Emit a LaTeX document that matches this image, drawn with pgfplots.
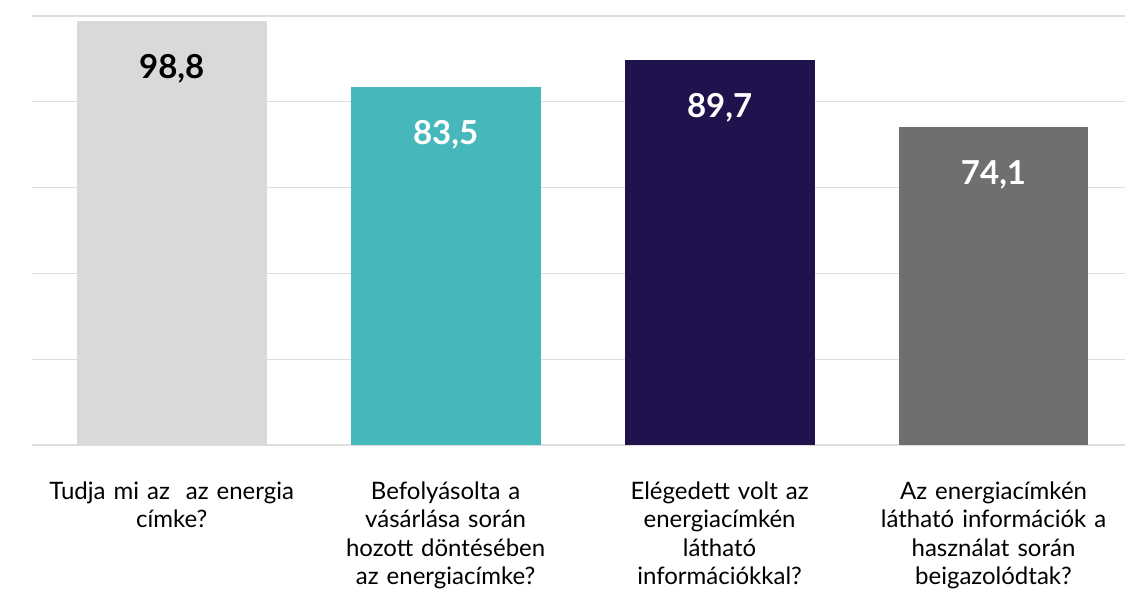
\documentclass[border=0pt]{standalone}
\usepackage{fontspec}
\setmainfont{Lato}
\usepackage{pgfplots}
\pgfplotsset{compat=1.18}
\definecolor{c1}{HTML}{D9D9D9}
\definecolor{c2}{HTML}{46B8BC}
\definecolor{c3}{HTML}{1F124D}
\definecolor{c4}{HTML}{6F6F6D}
\definecolor{gridc}{HTML}{DEDEDE}
\begin{document}
\begin{tikzpicture}
\begin{axis}[
  scale only axis,
  width=1093pt, height=429pt,
  xmin=-0.51, xmax=3.48,
  ymin=0, ymax=100,
  ytick={0,20,40,60,80,100},
  yticklabels={},
  ymajorgrids,
  grid style={gridc, line width=1.4pt},
  axis line style={draw=none},
  major tick length=0pt,
  xtick={0,1,2,3},
  xticklabels={
    {Tudja mi az\ \ az energia\\címke?},
    {Befolyásolta a\\vásárlása során\\hozott döntésében\\az energiacímke?},
    {Elégedett volt az\\energiacímkén\\látható\\információkkal?},
    {Az energiacímkén\\látható információk a\\használat során\\beigazolódtak?}},
  xticklabel style={text width=300pt, align=center, font=\fontsize{24}{28.5}\selectfont, yshift=-33pt},
  ybar, bar width=0.693, bar shift=0pt,
  /pgf/number format/.cd, use comma, fixed, fixed zerofill, precision=1, assume math mode=true,
  /pgfplots/.cd,
  nodes near coords,
  every node near coord/.append style={anchor=center, yshift=-48pt, font=\fontsize{33}{36}\selectfont\bfseries},
]
\addplot[fill=c1, draw=none, every node near coord/.append style={text=black}] coordinates {(0,98.8)};
\addplot[fill=c2, draw=none, every node near coord/.append style={text=white}] coordinates {(1,83.5)};
\addplot[fill=c3, draw=none, every node near coord/.append style={text=white}] coordinates {(2,89.7)};
\addplot[fill=c4, draw=none, every node near coord/.append style={text=white}] coordinates {(3,74.1)};
\end{axis}
\path[use as bounding box] (-32pt,-144pt) rectangle ++(1148pt,589pt);
\end{tikzpicture}
\end{document}
